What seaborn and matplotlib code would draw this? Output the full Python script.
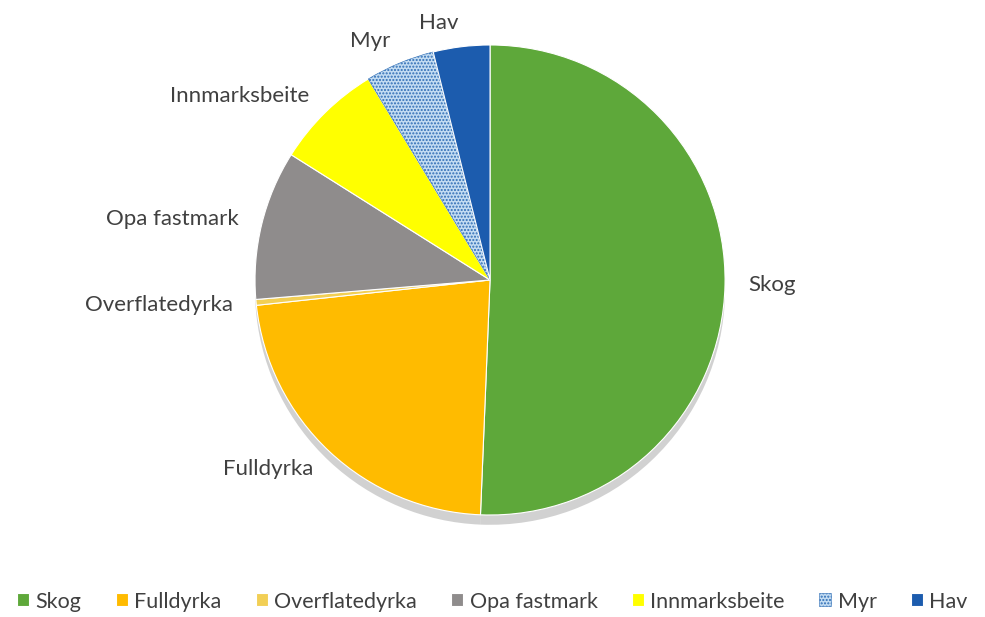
import matplotlib
matplotlib.use("Agg")
import matplotlib.pyplot as plt
import seaborn as sns

labels = ['Skog', 'Fulldyrka', 'Overflatedyrka', 'Opa fastmark', 'Innmarksbeite', 'Myr', 'Hav']
shares = [50.8, 22.7, 0.4, 10.3, 7.4, 4.8, 3.9]
colors = ['#5ea83a', '#ffbb00', '#f2cf55', '#8f8c8c', '#ffff00', '#c3dcf2', '#1c5cae']

sns.set_theme(style="white")
plt.rcParams['font.family'] = ['Lato', 'DejaVu Sans']

fig = plt.figure(figsize=(9.85, 6.17), dpi=100)
ax = fig.add_axes([0.2589, 0.1653, 0.4772, 0.7618])

wedges, texts = ax.pie(shares, labels=labels, colors=colors, startangle=90, counterclock=False,
                       labeldistance=1.1, radius=1.0,
                       wedgeprops=dict(edgecolor='white', linewidth=0.8),
                       textprops=dict(fontsize=16, color='#404040'),
                       shadow=dict(ox=0.0, oy=-0.03, facecolor='#9a9a9a',
                                   edgecolor='none', alpha=0.45))

# dotted fill for Myr
wedges[5].set_hatch('.....')
wedges[5].set_edgecolor('#2e6db5')
wedges[5].set_linewidth(0.4)

ax.set_xlim(-1, 1)
ax.set_ylim(-1, 1)
ax.set_aspect('equal')
ax.axis('off')

fig.legend(wedges, labels, loc='center', ncol=7, frameon=False, fontsize=15.5,
           bbox_to_anchor=(0.5, 0.025), handlelength=0.55, handleheight=0.55,
           handletextpad=0.3, columnspacing=1.6, labelcolor='#404040')

fig.savefig('out.png', dpi=100)
